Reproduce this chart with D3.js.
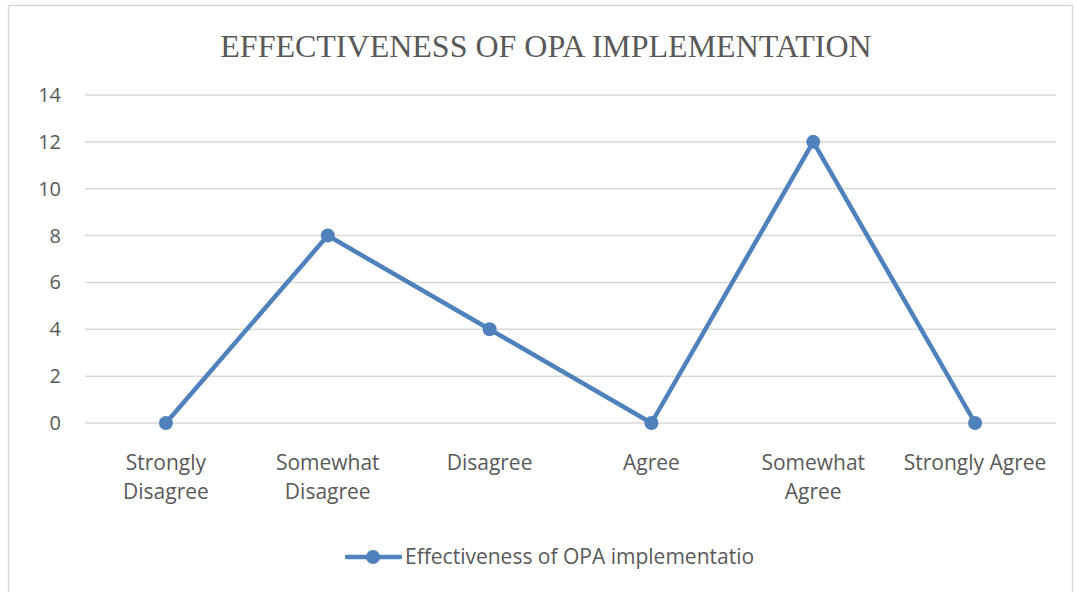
<!DOCTYPE html>
<meta charset="utf-8">
<head>
<script src="https://d3js.org/d3.v7.min.js"></script>
<style>
  body { margin: 0; background: #fff; }
  text { fill: #595959; }
</style>
</head>
<body>
<svg id="chart" width="1076" height="592"></svg>
<script>
// Data
var categories = ["Strongly Disagree", "Somewhat Disagree", "Disagree", "Agree", "Somewhat Agree", "Strongly Agree"];
var values = [0, 8, 4, 0, 12, 0];
var yTicks = [0, 2, 4, 6, 8, 10, 12, 14];
var seriesName = "Effectiveness of OPA implementatio";

var svg = d3.select("#chart");
var color = "#4F81BD";
var labelFont = "'Open Sans', sans-serif";

// chart border
svg.append("rect")
  .attr("x", 8.5).attr("y", 5.5)
  .attr("width", 1064).attr("height", 600)
  .attr("fill", "none")
  .attr("stroke", "#d9d9d9")
  .attr("stroke-width", 1.5);

// title
svg.append("text")
  .attr("x", 546).attr("y", 57)
  .attr("text-anchor", "middle")
  .style("font-family", "'Liberation Serif', 'Times New Roman', serif")
  .style("font-size", "32px")
  .text("EFFECTIVENESS OF OPA IMPLEMENTATION");

var x = d3.scaleBand().domain(categories).range([85, 1056]);
var y = d3.scaleLinear().domain([0, 14]).range([423, 95]);

// gridlines
svg.append("g")
  .selectAll("line")
  .data(yTicks)
  .enter()
  .append("line")
    .attr("x1", 85).attr("x2", 1056)
    .attr("y1", function(d) { return y(d); })
    .attr("y2", function(d) { return y(d); })
    .attr("stroke", "#d9d9d9")
    .attr("stroke-width", 1.5);

// y axis labels
svg.append("g")
  .selectAll("text")
  .data(yTicks)
  .enter()
  .append("text")
    .attr("x", 61)
    .attr("y", function(d) { return y(d); })
    .attr("dy", "0.35em")
    .attr("text-anchor", "end")
    .style("font-family", labelFont)
    .style("font-size", "20px")
    .text(function(d) { return d; });

// x axis labels, wrapped like the original
var wrapped = {
  "Strongly Disagree": ["Strongly", "Disagree"],
  "Somewhat Disagree": ["Somewhat", "Disagree"],
  "Disagree": ["Disagree"],
  "Agree": ["Agree"],
  "Somewhat Agree": ["Somewhat", "Agree"],
  "Strongly Agree": ["Strongly Agree"]
};
var xl = svg.append("g")
  .selectAll("text")
  .data(categories)
  .enter()
  .append("text")
    .attr("text-anchor", "middle")
    .style("font-family", labelFont)
    .style("font-size", "21px");
xl.each(function(d) {
  var t = d3.select(this);
  wrapped[d].forEach(function(line, i) {
    t.append("tspan")
      .attr("x", x(d) + x.bandwidth() / 2)
      .attr("y", 470 + i * 29)
      .text(line);
  });
});

// line
var line = d3.line()
  .x(function(d, i) { return x(categories[i]) + x.bandwidth() / 2; })
  .y(function(d) { return y(d); });

svg.append("path")
  .datum(values)
  .attr("d", line)
  .attr("fill", "none")
  .attr("stroke", color)
  .attr("stroke-width", 4.5)
  .attr("stroke-linejoin", "round");

svg.append("g")
  .selectAll("circle")
  .data(values)
  .enter()
  .append("circle")
    .attr("cx", function(d, i) { return x(categories[i]) + x.bandwidth() / 2; })
    .attr("cy", function(d) { return y(d); })
    .attr("r", 7)
    .attr("fill", color);

// legend
var leg = svg.append("g");
leg.append("line")
  .attr("x1", 347).attr("x2", 400)
  .attr("y1", 557).attr("y2", 557)
  .attr("stroke", color).attr("stroke-width", 4.5)
  .attr("stroke-linecap", "round");
leg.append("circle")
  .attr("cx", 373).attr("cy", 557).attr("r", 7)
  .attr("fill", color);
leg.append("text")
  .attr("x", 405).attr("y", 557)
  .attr("dy", "0.35em")
  .style("font-family", labelFont)
  .style("font-size", "21px")
  .text(seriesName);
</script>
</body>
